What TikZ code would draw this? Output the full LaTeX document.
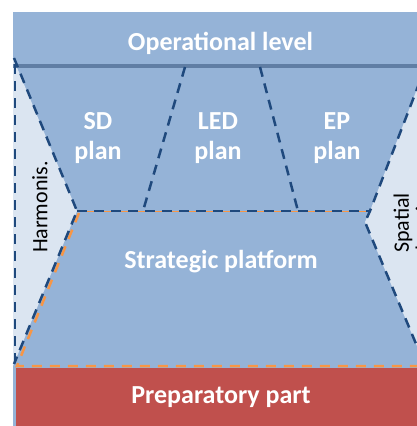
\documentclass[tikz,border=0pt]{standalone}
\usepackage{fontspec}
\setmainfont{Carlito}
\usetikzlibrary{positioning}
\definecolor{lvblue}{RGB}{149,179,215}
\definecolor{pale}{RGB}{219,229,241}
\definecolor{dkblue}{RGB}{31,73,125}
\definecolor{stripe}{RGB}{96,126,164}
\definecolor{orng}{RGB}{247,150,70}
\definecolor{prep}{RGB}{192,80,77}
\tikzset{
    edgeb/.style = {draw=dkblue,line width=2.5pt,dash pattern=on 10pt off 7pt}, % borders
    edgeo/.style = {draw=orng,line width=2.5pt,dash pattern=on 10pt off 8pt}, % platform
    edgeot/.style = {draw=orng,line width=0.8pt},
    bigtext/.style = {text=white,font=\bfseries\fontsize{26}{30}\selectfont,align=center},
    sidetext/.style = {text=black,font=\fontsize{22}{22}\selectfont,align=center,rotate=90}
}
\begin{document}
\begin{tikzpicture}[x=1pt,y=-1pt]
\useasboundingbox (0,0) rectangle (417,426);
\clip (0,0) rectangle (417,426);
%
\coordinate (tl) at (14,58);
\coordinate (ml) at (77,211);
\coordinate (bl) at (14,364);
\coordinate (tr) at (432,50);
\coordinate (mr) at (370,211);
\coordinate (mr2) at (365,222);
\coordinate (br) at (427,370);
\coordinate (d1t) at (185,67);
\coordinate (d1b) at (143,211);
\coordinate (d2t) at (260,67);
\coordinate (d2b) at (298,211);
%
\fill[lvblue] (13,12) rectangle (440,426);
\fill[pale] (13,58) -- (ml) -- (13,366) -- cycle;
\fill[pale] (tr) -- (mr) -- (mr2) -- (br) -- (440,370) -- (440,50) -- cycle;
\draw[stripe,line width=4pt] (13,66) -- (440,66);
\fill[prep] (16,368) rectangle (440,426);
%
\draw[edgeot] (ml) -- (mr);
\draw[edgeo] (79,213) -- (17,366) -- (440,366);
%
\draw[edgeb] (15,64) -- (15,364);
\draw[edgeb] (tl) -- (ml) -- (bl);
\draw[edgeb] (ml) -- (mr);
\draw[edgeb] (tr) -- (mr) -- (mr2) -- (br);
\draw[edgeb] (d1t) -- (d1b);
\draw[edgeb] (d2t) -- (d2b);
%
\node[bigtext,anchor=base] at (220.5,50) (op) {Operational level};
\node[bigtext] at (98,138) (sd) {SD\\plan};
\node[bigtext] at (218,138) (led) {LED\\plan};
\node[bigtext] at (337,138) (ep) {EP\\plan};
\node[bigtext,anchor=base] at (221,268) (strat) {Strategic platform};
\node[bigtext,anchor=base] at (221,403) (prepart) {Preparatory part};
\node[sidetext] at (40,207) (harm) {Harmonis.};
\node[sidetext] at (414,223) (spat) {Spatial\\planning};

\end{tikzpicture}
\end{document}
